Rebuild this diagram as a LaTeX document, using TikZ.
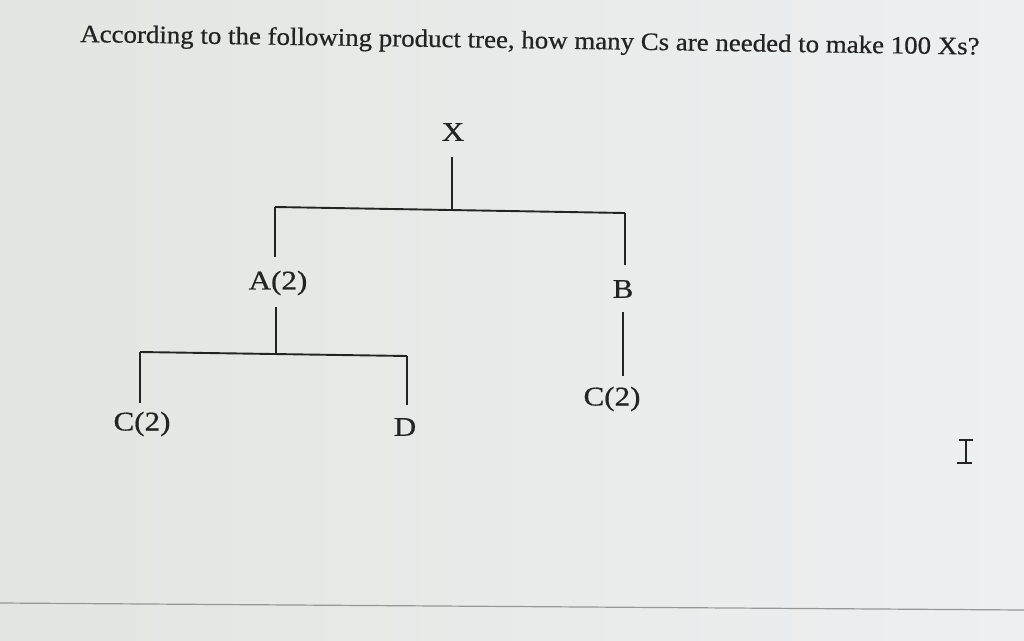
\documentclass[tikz,border=0pt]{standalone}
\usepackage{fontspec}
\setmainfont{Liberation Serif}
\newfontfamily\heavyserif[FakeBold=0.6]{Liberation Serif}
\definecolor{ink}{RGB}{35,35,35}
\definecolor{bgl}{RGB}{226,229,224}
\definecolor{bgr}{RGB}{237,240,241}
\definecolor{rule}{RGB}{150,152,150}
\begin{document}
\begin{tikzpicture}[x=1pt,y=-1pt,
  lbl/.style={font=\heavyserif\fontsize{27}{30}\selectfont, text=ink, inner sep=0pt, xscale=1.15},
  ln/.style={draw=ink, line width=1.9pt},
  ttl/.style={font=\heavyserif\fontsize{25}{28}\selectfont, text=ink, inner sep=0pt, anchor=base west, rotate=-0.8, xscale=1.075}]
\useasboundingbox (0,0) rectangle (1024,640);
\shade[left color=bgl, right color=bgr] (0,0) rectangle (1024,640);
% title
\node[ttl] (title) at (80,42) {According to the following product tree, how many Cs are needed to make 100 Xs?};
% labels
\node[lbl] (X) at (453,132) {X};
\node[lbl] (A) at (278,283) {A(2)};
\node[lbl] (B) at (623,289) {B};
\node[lbl] (C1) at (142,424) {C(2)};
\node[lbl] (D) at (405,427) {D};
\node[lbl] (C2) at (612,399) {C(2)};
% junctions
\coordinate (xj) at (452,210);
\coordinate (tl) at (275,207);
\coordinate (tr) at (625,213);
\coordinate (aj) at (276,354);
\coordinate (ll) at (140,352);
\coordinate (lr) at (407,356);
% connectors
\draw[ln] (452,157) -- (xj);
\draw[ln] (tl) -- (tr);
\draw[ln] (tl) -- (275,257);
\draw[ln] (tr) -- (625,265);
\draw[ln] (276,307) -- (aj);
\draw[ln] (ll) -- (lr);
\draw[ln] (ll) -- (140,403);
\draw[ln] (lr) -- (407,405);
\draw[ln] (623,312) -- (623,376);
% bottom rule
\draw[rule, line width=1.2pt] (0,603) -- (1024,610);
% text cursor
\draw[ink, line width=1.6pt] (959,440) -- (973,440) (966,440) -- (966,463) (957,463) -- (972,463);
\end{tikzpicture}
\end{document}
